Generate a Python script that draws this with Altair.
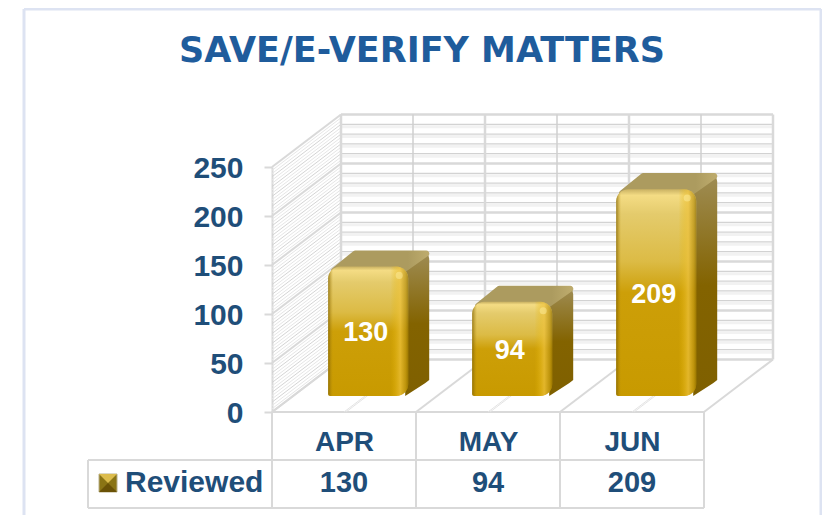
import altair as alt
import pandas as pd

# ---- chart values ----
months = ["APR", "MAY", "JUN"]
reviewed = [130, 94, 209]
series_name = "Reviewed"
title_text = "SAVE/E-VERIFY MATTERS"
y_ticks = [0, 50, 100, 150, 200, 250]

# ---- colours ----
NAVY = "#1f4e79"
TITLE = "#1f5c9c"
LINE = "#d9d9d9"
FRAME = "#dde3f2"

# ---- layout (pixels per unit of the two scales) ----
PX = 144.0
PY = 0.98
def X(px): return (px - 272) / PX
def V(py): return (412 - py) / PY

DEPTH_X = 69 / PX
DEPTH_V = 52.5 / PY
def proj(c, v, d=1.0):
    return c + d * DEPTH_X, v + d * DEPTH_V

xs = alt.Scale(domain=[0, 3], nice=False, zero=False)
ys = alt.Scale(domain=[0, 250], nice=False, zero=False)
label_expr = " : ".join(f"datum.value == {i + 0.5} ? '{m}'" for i, m in enumerate(months)) + " : ''"
x_axis = alt.Axis(
    title=None, values=[0.5, 1.5, 2.5], labelExpr=label_expr, grid=False, domain=False,
    ticks=False, labelFont="Liberation Sans", labelFontWeight="bold", labelFontSize=28,
    labelColor=NAVY, labelPadding=16, labelAngle=0, labelFlush=False)
y_axis = alt.Axis(
    title=None, values=y_ticks, grid=False, domainColor=LINE, domainWidth=2,
    tickColor=LINE, tickWidth=2, tickSize=8, labelPadding=21, labelOffset=1,
    labelFont="Liberation Sans", labelFontWeight="bold", labelFontSize=30, labelColor=NAVY)
ex = alt.X("x:Q", scale=xs, axis=x_axis)
ey = alt.Y("y:Q", scale=ys, axis=y_axis)

def rules(rows, color, width):
    df = pd.DataFrame(rows, columns=["x", "y", "x2", "y2"])
    return alt.Chart(df).mark_rule(color=color, strokeWidth=width).encode(
        x=ex, y=ey, x2="x2:Q", y2="y2:Q")

def grad(stops, vertical=True):
    return alt.LinearGradient(
        gradient="linear",
        stops=[alt.GradientStop(color=c, offset=o) for o, c in stops],
        x1=0, y1=0, x2=0 if vertical else 1, y2=1 if vertical else 0)

layers = []

# outer frame
layers.append(rules([
    (X(24), V(9), X(24), V(515)),
    (X(821), V(9), X(821), V(515)),
    (X(24), V(9), X(821), V(9)),
], FRAME, 3))

# side wall
minor = [v for v in range(0, 250, 10) if v % 50]
major = list(y_ticks)
hatch = []
for v in range(0, 250, 10):
    for k in (3.3, 6.6):
        a, b = proj(0, v + k)
        hatch.append((0, v + k, a, b))
layers.append(rules(hatch, "#e6e6e6", 1))
rows = []
for v in minor:
    a, b = proj(0, v)
    rows.append((0, v, a, b))
layers.append(rules(rows, "#d4d4d4", 1))
rows = []
for v in major:
    a, b = proj(0, v)
    rows.append((0, v, a, b))
layers.append(rules(rows, LINE, 2))

# back wall
rows = []
for v in minor:
    a, b = proj(0, v - 2.5)
    c, _ = proj(3, v - 2.5)
    rows.append((a, b, c, b))
layers.append(rules(rows, "#f2f2f2", 3))
rows = []
for v in minor:
    a, b = proj(0, v)
    c, _ = proj(3, v)
    rows.append((a, b, c, b))
layers.append(rules(rows, "#c8c8c8", 1))
rows = []
for v in major:
    a, b = proj(0, v)
    c, _ = proj(3, v)
    rows.append((a, b, c, b))
layers.append(rules(rows, LINE, 2.5))
rows = []
for c in (0.5, 1.5, 2.5):
    a, b = proj(c, 0)
    _, t = proj(c, 250)
    rows.append((a, b, a, t))
layers.append(rules(rows, "#cfcfcf", 1.5))
rows = []
for c in (0, 1, 2, 3):
    a, b = proj(c, 0)
    _, t = proj(c, 250)
    rows.append((a, b, a, t))
layers.append(rules(rows, LINE, 2.5))

# floor
rows = []
for c in (0, 1, 2, 3):
    a, b = proj(c, 0)
    rows.append((c, 0, a, b))
rows.append((0, 0, 3, 0))
layers.append(rules(rows, LINE, 2))
rows = []
for c in (0.5, 1.5, 2.5):
    a, b = proj(c, 0, 0.45)
    rows.append((c, 0, a, b))
    rows.append((c + 2 / PX, 0, a + 2 / PX, b))
layers.append(rules(rows, "#e4e4e4", 1))

# data table lines
row1, row2 = V(460), V(508)
rows = [(X(88), row1, 3, row1), (X(88), row2, 3, row2), (X(88), row1, X(88), row2)]
for c in (0, 1, 2, 3):
    rows.append((c, 0, c, row2))
layers.append(rules(rows, LINE, 2))

# bars
BAR_W = 80 / PX
BAR_DX = 21 / PX
BAR_DV = 16 / PY
BASE = 16.3
LIFT = 18.4
R = 12
label_rows = []
for i, val in enumerate(reviewed):
    x0 = i + 56.2 / PX
    x1 = x0 + BAR_W
    base, top = BASE, val + LIFT

    side = pd.DataFrame({
        "x": [x1 - 3 / PX, x1 + BAR_DX * 0.8, x1 + BAR_DX * 0.94, x1 + BAR_DX],
        "y": [top, top + BAR_DV * 0.92, top + BAR_DV * 0.85, top + BAR_DV * 0.85 - 6],
        "y2": [base, base + BAR_DV * 0.8, base + BAR_DV * 0.94, base + BAR_DV],
    })
    layers.append(alt.Chart(side).mark_area(
        interpolate="linear", orient="vertical",
        fill=grad([(0, "#9f8d55"), (0.5, "#836300"), (1, "#7f6000")])).encode(
        x=ex, y=ey, y2="y2:Q"))

    inset = 3 / PX
    topf = pd.DataFrame({
        "y": [top - 4, top + BAR_DV - 3],
        "x": [x0 + 2 * inset, x0 + BAR_DX + 2 * inset],
        "x2": [x1 - 2 * inset, x1 + BAR_DX - inset],
    })
    gr = grad([(0, "#ac9b5f"), (0.8, "#ac9b5f"), (1, "#bcaa6c")], vertical=False)
    layers.append(alt.Chart(topf).mark_area(
        interpolate="linear", orient="horizontal", fill=gr, stroke=gr,
        strokeWidth=6, strokeJoin="round").encode(x=ex, x2="x2:Q", y=ey))

    front = pd.DataFrame({"x": [x0], "x2": [x1], "y": [top], "y2": [base]})
    layers.append(alt.Chart(front).mark_rect(
        fill=grad([(0, "#c9b162"), (0.03, "#f4dc84"), (0.12, "#e4cb6c"),
                   (0.35, "#dcbb45"), (0.5, "#cd9f08"), (1, "#c89a00")]),
        cornerRadiusTopLeft=R, cornerRadiusTopRight=R,
        cornerRadiusBottomRight=R, cornerRadiusBottomLeft=2).encode(
        x=ex, x2="x2:Q", y=ey, y2="y2:Q"))
    layers.append(alt.Chart(front).mark_rect(
        fill=grad([(0, "#7a5c00"), (0.06, "#b08a1000"), (0.78, "#e6b60000"),
                   (0.9, "#eec23c"), (0.97, "#b8900f"), (1, "#8a6a00")],
                  vertical=False),
        opacity=0.7,
        cornerRadiusTopLeft=R, cornerRadiusTopRight=R,
        cornerRadiusBottomRight=R, cornerRadiusBottomLeft=2).encode(
        x=ex, x2="x2:Q", y=ey, y2="y2:Q"))
    glow = pd.DataFrame({"x": [x1 - 9 / PX], "y": [top - 9]})
    layers.append(alt.Chart(glow).mark_circle(color="#fff2a6", opacity=0.45, size=50).encode(x=ex, y=ey))
    label_rows.append({"x": (x0 + x1) / 2 - 2.5 / PX, "y": (base + top) / 2, "t": str(val)})

layers.append(alt.Chart(pd.DataFrame(label_rows)).mark_text(
    font="Liberation Sans", fontWeight="bold", fontSize=27, color="white", dy=2).encode(
    x=ex, y=ey, text="t:N"))

# table values
rowy = V(483)
table_vals = pd.DataFrame({"x": [i + 0.5 for i in range(len(reviewed))],
                           "y": [rowy] * len(reviewed),
                           "t": [str(v) for v in reviewed]})
layers.append(alt.Chart(table_vals).mark_text(
    font="Liberation Sans", fontWeight="bold", fontSize=29, color=NAVY).encode(
    x=ex, y=ey, text="t:N"))
layers.append(alt.Chart(pd.DataFrame({"x": [X(125)], "y": [rowy], "t": [series_name]})).mark_text(
    font="Liberation Sans", fontWeight="bold", fontSize=30, color=NAVY, align="left").encode(
    x=ex, y=ey, text="t:N"))

# legend key
kx0, kx1, kt, kb = X(99), X(117), V(474), V(492)
kc, km = (kx0 + kx1) / 2, (kt + kb) / 2
layers.append(alt.Chart(pd.DataFrame({"x": [kx0], "x2": [kx1], "y": [kt], "y2": [kb]})).mark_rect(
    fill="#8a7414", stroke="#b9b08a", strokeWidth=1).encode(x=ex, x2="x2:Q", y=ey, y2="y2:Q"))
layers.append(alt.Chart(pd.DataFrame({"x": [kx0, kc, kx1], "y": [kt] * 3, "y2": [kt, km, kt]})).mark_area(
    fill="#dcbc4c", interpolate="linear").encode(x=ex, y=ey, y2="y2:Q"))
layers.append(alt.Chart(pd.DataFrame({"x": [kx0, kc, kx1], "y": [kb, km, kb], "y2": [kb] * 3})).mark_area(
    fill="#6a5206", interpolate="linear").encode(x=ex, y=ey, y2="y2:Q"))

chart = alt.layer(*layers).properties(
    width=432, height=245,
    padding={"left": 264, "top": 159, "right": 118, "bottom": 103},
    autosize=alt.AutoSizeParams(type="none"),
    title=alt.TitleParams(title_text, font="DejaVu Sans", fontWeight="bold", fontSize=35,
                          color=TITLE, anchor="middle", dx=-66, offset=-61),
    background="white",
).configure_view(stroke=None)

chart.save("out.html", embed_options={"renderer": "svg", "actions": False})
